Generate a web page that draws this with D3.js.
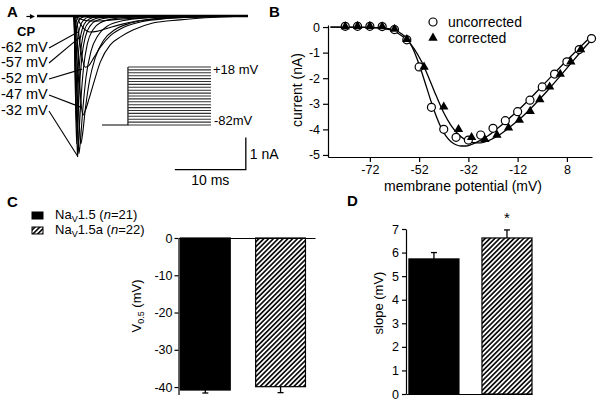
<!DOCTYPE html>
<html><head><meta charset="utf-8">
<script src="https://cdn.jsdelivr.net/npm/d3@7"></script>
<style>
body{margin:0;background:#fff;}
svg{display:block;font-family:"Liberation Sans",Arial,sans-serif;}
</style></head><body>
<svg id="c" width="600" height="403"></svg>
<script>
// ---------- Panel A data: current traces (time ms, current nA) ----------
const traceM62 = [[-5.2,0],[0,0],[0.4,-0.03],[1,-0.1],[2,-0.15],[3,-0.16],[4.5,-0.14],[7,-0.09],[10,-0.05],[14,-0.02],[20,-0.01],[24.5,0]];
const traceM57 = [[-5.2,0],[0,0],[0.4,-0.06],[0.9,-0.25],[1.5,-0.42],[2.2,-0.5],[3.2,-0.48],[4.5,-0.4],[6.5,-0.27],[9,-0.15],[12,-0.07],[16,-0.03],[24.5,0]];
const traceM52 = [[-5.2,0],[0,0],[0.3,-0.1],[0.7,-0.6],[1.1,-1.25],[1.6,-1.6],[2.1,-1.55],[2.8,-1.3],[3.8,-0.95],[5.2,-0.6],[7,-0.35],[9.5,-0.18],[13,-0.08],[18,-0.03],[24.5,0]];
const traceM47 = [[-5.2,0],[0,0],[0.25,-0.2],[0.6,-1.3],[0.95,-2.6],[1.25,-3.1],[1.6,-2.95],[2.1,-2.6],[2.7,-2.15],[3.7,-1.44],[5.1,-0.9],[6.5,-0.66],[8.3,-0.44],[11.1,-0.22],[14.9,-0.12],[20,-0.04],[24.5,0]];
const traceM42 = [[-5.2,0],[0,0],[0.2,-0.3],[0.5,-2.0],[0.8,-3.6],[0.95,-4.0],[1.2,-3.7],[1.6,-2.9],[2.2,-2.0],[3,-1.3],[4.2,-0.75],[5.8,-0.42],[8,-0.22],[11,-0.1],[16,-0.04],[24.5,0]];
const traceM37 = [[-5.2,0],[0,0],[0.15,-0.4],[0.4,-2.5],[0.6,-3.9],[0.7,-4.3],[0.9,-3.9],[1.25,-2.9],[1.7,-1.9],[2.4,-1.1],[3.4,-0.6],[4.8,-0.3],[7,-0.14],[10,-0.06],[15,-0.02],[24.5,0]];
const traceM32 = [[-5.2,0],[0,0],[0.1,-0.5],[0.3,-2.6],[0.45,-4.1],[0.5,-4.4],[0.65,-3.9],[0.95,-2.7],[1.35,-1.6],[1.9,-0.85],[2.7,-0.42],[3.8,-0.2],[5.5,-0.09],[8,-0.04],[12,-0.01],[24.5,0]];
const traceM22 = [[-5.2,0],[0,0],[0.1,-0.8],[0.25,-3.0],[0.38,-4.0],[0.5,-3.5],[0.75,-2.3],[1.1,-1.3],[1.6,-0.65],[2.3,-0.3],[3.3,-0.13],[5,-0.05],[8,-0.01],[24.5,0]];
const traceM12 = [[-5.2,0],[0,0],[0.1,-0.9],[0.22,-2.6],[0.32,-3.3],[0.45,-2.8],[0.7,-1.7],[1.05,-0.9],[1.5,-0.42],[2.2,-0.18],[3.2,-0.07],[5,-0.02],[24.5,0]];
const traceM2  = [[-5.2,0],[0,0],[0.08,-0.7],[0.2,-1.9],[0.28,-2.4],[0.4,-2.0],[0.65,-1.1],[1,-0.55],[1.45,-0.25],[2.1,-0.1],[3.2,-0.03],[24.5,0]];
const traceP8  = [[-5.2,0],[0,0],[0.08,-0.45],[0.18,-1.1],[0.25,-1.4],[0.37,-1.15],[0.6,-0.6],[0.95,-0.28],[1.4,-0.12],[2.1,-0.04],[24.5,0]];
const traceP18 = [[-5.2,0],[0,0],[0.08,-0.2],[0.16,-0.42],[0.22,-0.5],[0.35,-0.38],[0.6,-0.18],[0.95,-0.07],[1.5,-0.02],[24.5,0]];
const traces = [traceM62,traceM57,traceM52,traceM47,traceM42,traceM37,traceM32,traceM22,traceM12,traceM2,traceP8,traceP18];
const traceLabels = ["-62 mV","-57 mV","-52 mV","-47 mV","-32 mV"];
const leaderTargets = [[0.56,-0.5],[1.0,-0.63],[1.13,-1.66],[0.85,-2.84],[0.56,-4.4]];
const baselineSpan = [-5.2, 24.5];
const protocolSteps = [-82,-77,-72,-67,-62,-57,-52,-47,-42,-37,-32,-27,-22,-17,-12,-7,-2,3,8,13,18];
const protocolTimes = [-5, 0, 16];
const scaleBarOrigin = [24.2, -4.8]; // ms, nA (corner)

// ---------- Panel B data ----------
const ivUncorrV = [-82,-77,-72,-67,-62,-57,-52,-47,-42,-37,-32,-27,-22,-17,-12,-7,-2,3,8,13,18];
const ivUncorrI = [0.03,0.03,0.03,0.02,-0.1,-0.5,-1.56,-3.14,-4.0,-4.31,-4.42,-4.22,-3.96,-3.66,-3.31,-2.86,-2.34,-1.84,-1.36,-0.88,-0.45];
const ivCorrV = [-82,-77,-72,-67,-62,-57,-50,-42,-36,-30.7,-25.3,-20.4,-15.7,-11.3,-6.9,-3,1,5.3,9.6,13.6];
const ivCorrI = [0.02,0.03,0.03,0.02,-0.08,-0.48,-1.56,-3.12,-4.0,-4.31,-4.39,-4.22,-3.94,-3.64,-3.29,-2.83,-2.34,-1.84,-1.36,-0.88];
const fitUncorrV = [-88,-80,-72,-66,-62,-59,-57,-55,-53,-51,-49,-47,-45,-43,-41,-39,-37,-35,-33,-31,-29,-27,-24,-20,-16,-12,-7,-2,3,8,13,18];
const fitUncorrI = [0,0,-0.01,-0.04,-0.12,-0.27,-0.45,-0.75,-1.2,-1.75,-2.35,-2.95,-3.5,-3.95,-4.27,-4.48,-4.6,-4.65,-4.65,-4.6,-4.52,-4.42,-4.25,-3.95,-3.62,-3.27,-2.8,-2.3,-1.8,-1.3,-0.82,-0.35];
const fitCorrV = [-88,-72,-64,-60,-57,-54,-51,-48,-45,-42,-39,-36,-33,-30,-27,-24,-20,-15,-10,-5,0,5,10,15,18];
const fitCorrI = [0,-0.01,-0.1,-0.28,-0.5,-0.85,-1.35,-2.0,-2.7,-3.35,-3.85,-4.2,-4.42,-4.52,-4.53,-4.45,-4.25,-3.9,-3.5,-3.02,-2.5,-1.95,-1.38,-0.82,-0.5];
const ivXTicks = [-72,-52,-32,-12,8];
const ivYTicks = [0,-1,-2,-3,-4,-5];

// ---------- Panels C & D data ----------
const groups = ["Nav1.5","Nav1.5a"];
const groupN = [21, 22];
const v05Mean = [-40.8, -39.9];
const v05Err = [0.8, 1.6];
const slopeMean = [5.73, 6.62];
const slopeErr = [0.27, 0.34];
const v05Ticks = [0,-10,-20,-30,-40];
const slopeTicks = [0,1,2,3,4,5,6,7];

const svg = d3.select("#c");
const defs = svg.append("defs");
const pat = defs.append("pattern").attr("id","hatch").attr("patternUnits","userSpaceOnUse")
  .attr("width",3.4).attr("height",3.4).attr("patternTransform","rotate(45)");
pat.append("rect").attr("width",3.4).attr("height",3.4).attr("fill","#fff");
pat.append("line").attr("x1",1.7).attr("x2",1.7).attr("y1",0).attr("y2",3.4).attr("stroke","#000").attr("stroke-width",1.6);

function styleAxis(g, fs){
  g.selectAll("path.domain").attr("stroke","#000").attr("stroke-width",1.2);
  g.selectAll(".tick line").attr("stroke","#000").attr("stroke-width",1.2);
  g.selectAll(".tick text").attr("fill","#000").attr("font-size",fs).attr("font-family","Liberation Sans, Arial, sans-serif");
}
function label(x,y,t,opt={}){
  const e = svg.append("text").attr("x",x).attr("y",y).text(t).attr("font-size",opt.fs||14).attr("fill","#000");
  if(opt.bold) e.attr("font-weight","bold");
  if(opt.anchor) e.attr("text-anchor",opt.anchor);
  return e;
}

// ================= Panel A =================
const xA = d3.scaleLinear().domain([0,10]).range([74,145]);
const yA = d3.scaleLinear().domain([0,-1]).range([16,48]);
const lineA = d3.line().x(d=>xA(d[0])).y(d=>yA(d[1])).curve(d3.curveMonotoneX);
const gA = svg.append("g");
gA.append("path").datum(baselineSpan.map(t=>[t,0])).attr("d",lineA)
  .attr("stroke","#000").attr("stroke-width",2.6).attr("fill","none");
gA.selectAll("path.tr").data(traces).join("path").attr("class","tr").attr("d",lineA)
  .attr("fill","none").attr("stroke","#000").attr("stroke-width",1.1);
// arrow
const ax0 = xA(baselineSpan[0]-1.5), ax1 = xA(baselineSpan[0]-0.3), ay = yA(0)+0.5;
gA.append("line").attr("x1",ax0).attr("x2",ax1-3).attr("y1",ay).attr("y2",ay).attr("stroke","#000").attr("stroke-width",1.2);
gA.append("path").attr("d",`M${ax1},${ay}L${ax1-5},${ay-2.5}L${ax1-5},${ay+2.5}Z`).attr("fill","#000");
label(17,36,"CP",{bold:true,fs:13});
const labY = [52,67,83,99,115];
traceLabels.forEach((t,i)=>{
  label(1,labY[i],t,{fs:14.5});
  gA.append("line").attr("x1",49).attr("y1",labY[i]-4).attr("x2",xA(leaderTargets[i][0])).attr("y2",yA(leaderTargets[i][1]))
    .attr("stroke","#000").attr("stroke-width",1.1);
});
// protocol inset
const xP = d3.scaleLinear().domain([protocolTimes[0],protocolTimes[2]]).range([102,211]);
const yP = d3.scaleLinear().domain([-82,18]).range([125,67]);
gA.append("path").attr("d",`M${xP(protocolTimes[0])},${yP(-82)}H${xP(0)}V${yP(18)}`)
  .attr("fill","none").attr("stroke","#000").attr("stroke-width",1.1);
gA.selectAll("line.st").data(protocolSteps).join("line").attr("class","st")
  .attr("x1",xP(0)).attr("x2",xP(protocolTimes[2])).attr("y1",d=>yP(d)).attr("y2",d=>yP(d))
  .attr("stroke","#333").attr("stroke-width",1.1);
label(213,74,"+18 mV",{fs:13});
label(214,125,"-82mV",{fs:13});
// scale bars
const sbx = xA(scaleBarOrigin[0]), sby = yA(scaleBarOrigin[1]);
gA.append("path").attr("d",`M${xA(scaleBarOrigin[0]-10)},${sby}H${sbx}V${yA(scaleBarOrigin[1]+1)}`)
  .attr("fill","none").attr("stroke","#000").attr("stroke-width",1.3);
label(sbx+4, yA(scaleBarOrigin[1]+0.5)+5, "1 nA",{fs:14});
label(xA(scaleBarOrigin[0]-5), sby+15, "10 ms",{fs:14,anchor:"middle"});
label(7,17,"A",{bold:true,fs:15});

// ================= Panel B =================
const xB = d3.scaleLinear().domain([-89,18.2]).range([328,592]);
const yB = d3.scaleLinear().domain([0.08,-5.08]).range([25,157]);
const gB = svg.append("g");
gB.append("g").attr("transform",`translate(0,${yB(-5.08)})`)
  .call(d3.axisBottom(xB).tickValues(ivXTicks).tickFormat(d=>String(d)).tickSize(5).tickSizeOuter(0).tickPadding(3))
  .call(g=>styleAxis(g,12.5));
gB.append("g").attr("transform",`translate(${xB(-89)},0)`)
  .call(d3.axisLeft(yB).tickValues(ivYTicks).tickFormat(d=>String(d)).tickSize(5).tickSizeOuter(0).tickPadding(3))
  .call(g=>styleAxis(g,12.5));
const lineB = d3.line().x(d=>xB(d[0])).y(d=>yB(d[1])).curve(d3.curveMonotoneX);
gB.append("path").datum(fitUncorrV.map((v,i)=>[v,fitUncorrI[i]])).attr("d",lineB).attr("fill","none").attr("stroke","#000").attr("stroke-width",1.3);
gB.append("path").datum(fitCorrV.map((v,i)=>[v,fitCorrI[i]])).attr("d",lineB).attr("fill","none").attr("stroke","#000").attr("stroke-width",1.3);
gB.selectAll("circle.u").data(ivUncorrV).join("circle").attr("class","u")
  .attr("cx",d=>xB(d)).attr("cy",(d,i)=>yB(ivUncorrI[i])).attr("r",4)
  .attr("fill","#fff").attr("stroke","#000").attr("stroke-width",1.2);
const tri = d3.symbol().type(d3.symbolTriangle).size(38);
gB.selectAll("path.c").data(ivCorrV).join("path").attr("class","c").attr("d",tri)
  .attr("transform",(d,i)=>`translate(${xB(d)},${yB(ivCorrI[i])})`).attr("fill","#000");
// legend
gB.append("circle").attr("cx",433).attr("cy",22).attr("r",4).attr("fill","#fff").attr("stroke","#000").attr("stroke-width",1.2);
gB.append("path").attr("d",tri).attr("transform","translate(433,38)").attr("fill","#000");
label(448,27,"uncorrected",{fs:14});
label(448,43,"corrected",{fs:14});
svg.append("text").attr("transform","translate(302,90) rotate(-90)").attr("text-anchor","middle")
  .attr("font-size",14).text("current (nA)");
label(463,191,"membrane potential (mV)",{fs:14,anchor:"middle"});
label(269,17,"B",{bold:true,fs:15});

// ================= Panel C =================
const yC = d3.scaleLinear().domain([0,-42]).range([238,394.5]);
const xC = d3.scaleBand().domain(groups).range([178.5,315]).paddingInner(0.338).paddingOuter(0.076).align(0.167);
const gC = svg.append("g");
gC.selectAll("rect.b").data(groups).join("rect").attr("class","b")
  .attr("x",d=>xC(d)).attr("width",xC.bandwidth())
  .attr("y",yC(0)).attr("height",(d,i)=>yC(v05Mean[i])-yC(0))
  .attr("fill",(d,i)=>i===0?"#000":"url(#hatch)").attr("stroke","#000").attr("stroke-width",1.2);
groups.forEach((g,i)=>{
  const cx = xC(g)+xC.bandwidth()/2, y0=yC(v05Mean[i]), y1=yC(v05Mean[i]-v05Err[i]);
  gC.append("line").attr("x1",cx).attr("x2",cx).attr("y1",y0).attr("y2",y1).attr("stroke","#000").attr("stroke-width",1.3);
  gC.append("line").attr("x1",cx-3).attr("x2",cx+3).attr("y1",y1).attr("y2",y1).attr("stroke","#000").attr("stroke-width",1.3);
});
gC.append("g").attr("transform",`translate(0,${yC(0)})`)
  .call(d3.axisTop(xC).tickSize(0).tickSizeOuter(0).tickFormat(""))
  .call(g=>styleAxis(g,12));
gC.append("g").attr("transform",`translate(178.5,0)`)
  .call(d3.axisLeft(yC).tickValues(v05Ticks).tickFormat(d=>String(d)).tickSize(4).tickSizeOuter(0).tickPadding(2))
  .call(g=>styleAxis(g,12.5));
const ylC = svg.append("text").attr("transform","translate(141,306) rotate(-90)").attr("text-anchor","middle").attr("font-size",13);
ylC.append("tspan").text("V");
ylC.append("tspan").text("0.5").attr("font-size",9).attr("dy",3);
ylC.append("tspan").text(" (mV)").attr("dy",-3);
// legend
groups.forEach((g,i)=>{
  const ly = 212 + i*15;
  svg.append("rect").attr("x",32).attr("y",ly).attr("width",11).attr("height",7)
    .attr("fill",i===0?"#000":"url(#hatch)").attr("stroke","#000").attr("stroke-width",1);
  const t = svg.append("text").attr("x",55).attr("y",ly+7).attr("font-size",13);
  t.append("tspan").text("Na");
  t.append("tspan").text("V").attr("font-size",9).attr("dy",3);
  t.append("tspan").text(g.slice(3)+" (").attr("dy",-3);
  t.append("tspan").text("n").attr("font-style","italic");
  t.append("tspan").text("="+groupN[i]+")");
});
label(7,207,"C",{bold:true,fs:15});

// ================= Panel D =================
const yD = d3.scaleLinear().domain([0,7]).range([394,229]);
const xD = d3.scaleBand().domain(groups).range([406,532]).paddingInner(0.315).paddingOuter(0.02).align(1);
const gD = svg.append("g");
gD.selectAll("rect.b").data(groups).join("rect").attr("class","b")
  .attr("x",d=>xD(d)).attr("width",xD.bandwidth())
  .attr("y",(d,i)=>yD(slopeMean[i])).attr("height",(d,i)=>yD(0)-yD(slopeMean[i]))
  .attr("fill",(d,i)=>i===0?"#000":"url(#hatch)").attr("stroke","#000").attr("stroke-width",1.2);
groups.forEach((g,i)=>{
  const cx = xD(g)+xD.bandwidth()/2, y0=yD(slopeMean[i]), y1=yD(slopeMean[i]+slopeErr[i]);
  gD.append("line").attr("x1",cx).attr("x2",cx).attr("y1",y0).attr("y2",y1).attr("stroke","#000").attr("stroke-width",1.3);
  gD.append("line").attr("x1",cx-3).attr("x2",cx+3).attr("y1",y1).attr("y2",y1).attr("stroke","#000").attr("stroke-width",1.3);
});
gD.append("g").attr("transform",`translate(0,${yD(0)})`)
  .call(d3.axisBottom(xD).tickSize(0).tickSizeOuter(0).tickFormat(""))
  .call(g=>styleAxis(g,12));
gD.append("g").attr("transform",`translate(406,0)`)
  .call(d3.axisLeft(yD).tickValues(slopeTicks).tickFormat(d=>String(d)).tickSize(4).tickSizeOuter(0).tickPadding(3))
  .call(g=>styleAxis(g,12.5));
label(xD(groups[1])+xD.bandwidth()/2, yD(slopeMean[1]+slopeErr[1])-7, "*",{fs:15,anchor:"middle"});
svg.append("text").attr("transform","translate(383,303) rotate(-90)").attr("text-anchor","middle")
  .attr("font-size",13).text("slope (mV)");
label(347,206,"D",{bold:true,fs:15});
</script>
</body></html>
